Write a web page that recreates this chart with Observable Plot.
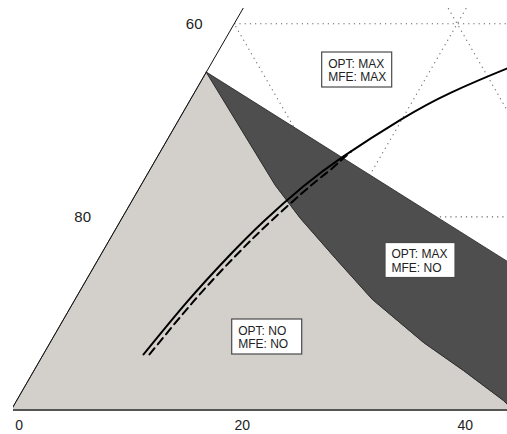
<!DOCTYPE html>
<html>
<head>
<meta charset="utf-8">
<script src="https://cdn.jsdelivr.net/npm/d3@7"></script>
<script src="https://cdn.jsdelivr.net/npm/@observablehq/plot@0.6"></script>
<style>
  html, body { margin: 0; padding: 0; background: #fff; }
  #chart { width: 507px; height: 434px; overflow: hidden; }
</style>
</head>
<body>
<div id="chart"></div>
<script>
// Ternary coordinates: x = bottom-axis position, l = left-axis value (horizontal levels)
const bottomTicks = [0, 20, 40];
const leftTicks = [80, 60];
const gridTicks = [20, 40, 60, 80];

// Region OPT: NO / MFE: NO (light)
const regionNoNo = [
  [0, 100], [17.5, 65], [23.70, 76.75], [25.95, 80.17], [29.09, 84.31],
  [32.40, 88.56], [34.74, 90.83], [36.98, 93.01], [40.56, 95.91],
  [44.15, 99.02], [45.0, 100]
];
// Region OPT: MAX / MFE: NO (dark)
const regionMaxNo = [
  [17.5, 65], [46, 85.70], [46, 100], [45.0, 100], [44.15, 99.02],
  [40.56, 95.91], [36.98, 93.01], [34.74, 90.83], [32.40, 88.56],
  [29.09, 84.31], [25.95, 80.17], [23.70, 76.75]
];
// Solid curve
const curveSolid = [
  [11.87, 94.25], [15.81, 88.76], [19.40, 84.21], [22.63, 80.48],
  [26.21, 76.83], [29.80, 73.73], [34.91, 69.95], [39.40, 67.15],
  [44.51, 64.61], [46.57, 63.70]
];
// Dashed curve
const curveDashed = [
  [12.40, 94.25], [16.35, 88.76], [19.98, 84.21], [23.26, 80.48],
  [26.80, 76.83], [28.55, 75.20], [29.57, 74.16], [30.48, 73.23]
];
// Region labels
const labelText = ["OPT: MAX\nMFE: MAX", "OPT: MAX\nMFE: NO", "OPT: NO\nMFE: NO"];
const labelX = [31.03, 36.71, 22.96];
const labelL = [64.79, 84.52, 92.44];

// ---- derived tables ----
const toRows = pts => pts.map(([x, l]) => ({x, l}));
const grid = [];
for (const t of gridTicks) {
  grid.push({x1: (100 - t) / 2, l1: t, x2: 100 - (100 - t) / 2, l2: t});     // horizontal
  grid.push({x1: t, l1: 100, x2: t + (100 - t) / 2, l2: t});                 // parallel to left edge
  grid.push({x1: t, l1: 100, x2: t / 2, l2: 100 - t});                       // parallel to right edge
}
const edge = [{x: 0, l: 100}, {x: 28, l: 44}];
const labels = labelText.map((text, i) => ({text, x: labelX[i], l: labelL[i]}));
const font = "'Liberation Sans', Arial, Helvetica, sans-serif";

const plot = Plot.plot({
  width: 507,
  height: 434,
  marginLeft: 13,
  marginRight: 0,
  marginTop: 8,
  marginBottom: 24.5,
  style: {fontFamily: font, background: "#fff", overflow: "visible"},
  x: {domain: [0.2063, 44.511], axis: null},
  y: {domain: [100, 58.42], axis: null},
  marks: [
    Plot.link(grid, {x1: "x1", y1: "l1", x2: "x2", y2: "l2", stroke: "#666",
      strokeWidth: 1.1, strokeDasharray: "1.2,4", clip: true}),
    Plot.line(toRows(regionNoNo), {x: "x", y: "l", curve: "linear-closed",
      fill: "#d3cfcb", stroke: "#3a3a3a", strokeWidth: 0.8, clip: true}),
    Plot.line(toRows(regionMaxNo), {x: "x", y: "l", curve: "linear-closed",
      fill: "#4e4e4e", stroke: "#222", strokeWidth: 0.8, clip: true}),
    Plot.line(edge, {x: "x", y: "l", stroke: "#111", strokeWidth: 1, clip: true}),
    Plot.line(toRows(curveSolid), {x: "x", y: "l", curve: "natural",
      stroke: "#000", strokeWidth: 2, clip: true}),
    Plot.line(toRows(curveDashed), {x: "x", y: "l", curve: "natural",
      stroke: "#000", strokeWidth: 2, strokeDasharray: "8,5", clip: true}),
    Plot.rect(labels, {x1: "x", x2: "x", y1: "l", y2: "l",
      insetLeft: -35, insetRight: -35, insetTop: -17.5, insetBottom: -17.5,
      fill: "#fff", stroke: "#4a4a4a", strokeWidth: 1.2}),
    Plot.text(labels, {x: "x", y: "l", text: "text", textAnchor: "start", dx: -29,
      fontSize: 12, lineHeight: 1.15, fill: "#222"}),
    Plot.ruleY([100], {stroke: "#555", strokeWidth: 2}),
    Plot.text(bottomTicks, {x: d => d, y: () => 100, text: d => String(d),
      dx: 8, dy: 16, fontSize: 14, fill: "#222"}),
    Plot.text(leftTicks, {x: d => (100 - d) / 2, y: d => d, text: d => String(d),
      dx: -40, fontSize: 15, fill: "#222"})
  ]
});
document.getElementById("chart").appendChild(plot);
</script>
</body>
</html>
